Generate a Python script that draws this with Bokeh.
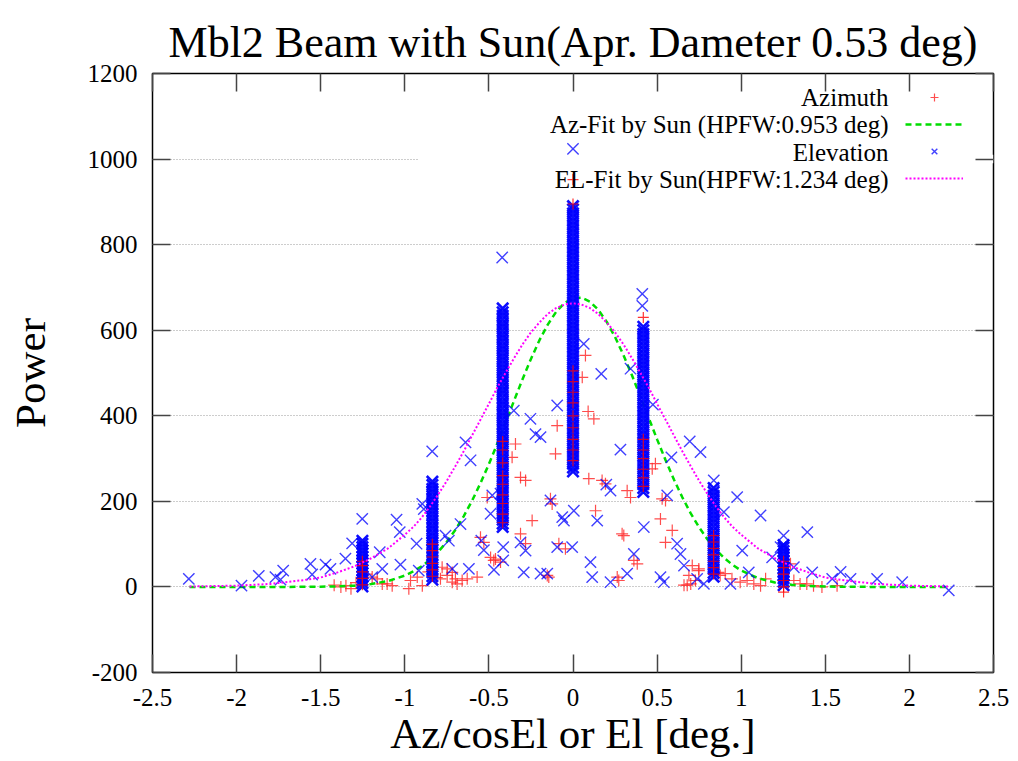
from bokeh.plotting import figure
from bokeh.models import (ColumnDataSource, Range1d, LinearAxis, FixedTicker,
                          CustomJSTickFormatter, Label, Legend, LegendItem, BoxAnnotation)
from bokeh.core.properties import value
from bokeh.embed import file_html
from bokeh.resources import INLINE

# ---------------- data ----------------
title_text = "Mbl2 Beam with Sun(Apr. Dameter 0.53 deg)"
x_label = "Az/cosEl or El [deg.]"
y_label = "Power"
series_names = ["Azimuth", "Az-Fit by Sun (HPFW:0.953 deg)", "Elevation", "EL-Fit by Sun(HPFW:1.234 deg)"]

x_ticks = [-2.5, -2.0, -1.5, -1.0, -0.5, 0.0, 0.5, 1.0, 1.5, 2.0, 2.5]
y_ticks = [-200, 0, 200, 400, 600, 800, 1000, 1200]

# scan positions (columns of dense samples)
col_x = [-1.252, -0.836, -0.418, 0.0, 0.418, 0.836, 1.252]

# Elevation samples stacked at each scan position
el_col_m125 = [1, 9, 16, 24, 32, 39, 47, 55, 62, 70, 78, 85, 93, 101, 108]
el_col_m084 = [17, 25, 34, 42, 51, 59, 68, 76, 85, 93, 102, 110, 119, 127, 136, 144, 153, 161,
               170, 178, 187, 195, 204, 212, 221, 229, 238, 246]
el_col_m042 = [140, 148, 157, 166, 174, 183, 192, 200, 209, 218, 226, 235, 244, 252, 261, 270,
               278, 287, 296, 304, 313, 322, 330, 339, 348, 356, 365, 374, 382, 391, 400, 408,
               417, 426, 434, 443, 452, 460, 469, 478, 486, 495, 504, 512, 521, 530, 538, 547,
               556, 564, 573, 582, 590, 599, 608, 616, 625, 634, 642, 651]
el_col_000 = [270, 279, 288, 297, 306, 315, 324, 333, 342, 351, 360, 369, 378, 387, 396, 405,
              414, 423, 432, 441, 450, 459, 468, 477, 486, 495, 504, 513, 522, 531, 540, 549,
              558, 567, 576, 585, 594, 603, 612, 621, 630, 639, 648, 657, 666, 675, 684, 693,
              702, 711, 720, 729, 738, 747, 756, 765, 774, 783, 792, 801, 810, 819, 828, 837,
              846, 855, 864, 873, 882, 890]
el_col_p042 = [222, 231, 240, 249, 258, 267, 276, 285, 294, 303, 312, 321, 330, 339, 348, 357,
               366, 375, 384, 393, 402, 411, 420, 429, 438, 447, 456, 465, 474, 483, 492, 501,
               510, 519, 528, 537, 546, 555, 564, 573, 582, 591, 600, 608]
el_col_p084 = [24, 33, 42, 51, 60, 69, 78, 87, 96, 105, 114, 123, 132, 141, 150, 159, 168, 177,
               186, 195, 204, 213, 222, 231]
el_col_p125 = [4, 12, 20, 28, 36, 44, 52, 60, 68, 76, 84, 92, 98]

# Elevation scattered samples
el_x = [-2.284, -1.971, -1.868, -1.769, -1.723, -1.739, -1.561, -1.551, -1.471, -1.442, -1.353,
        -1.313, -1.253, -1.149, -1.134, -1.194, -1.049, -1.030, -1.026, -0.930, -0.917, -0.887,
        -0.896, -0.758, -0.738, -0.669, -0.718, -0.619, -0.837, -0.639, -0.609, -0.545, -0.530,
        -0.490, -0.480, -0.431, -0.415, -0.415, -0.352, -0.253, -0.223, -0.193, -0.134, -0.094,
        -0.094, -0.312, -0.282, -0.293, -0.193, -0.153, -0.064, -0.054, 0.005, -0.005, 0.144,
        0.104, 0.114, 0.223, 0.198, 0.223, 0.282, 0.322, 0.362, 0.421, 0.520, 0.540, 0.560,
        0.585, 0.619, 0.639, 0.694, 0.475, 0.412, 0.412, 0.168, 0.342, 0.758, 0.837, 0.897,
        0.976, 1.115, 1.006, 1.045, 0.936, 1.184, 1.234, 1.252, 1.393, 1.313, 1.422, 1.541,
        1.591, 1.650, 1.808, 1.957, 2.234, 0.738, 0.778, 0.064, -0.421, 0.0, -0.470, 0.660]
el_y = [19, 3, 26, 23, 38, 17, 54, 29, 52, 42, 66,
        102, 159, 81, 42, 23, 157, 128, 52, 101, 38, 182,
        194, 120, 108, 147, 42, 42, 317, 338, 296, 108, 86,
        171, 214, 218, 93, 62, 412, 393, 357, 350, 202, 424,
        93, 104, 85, 34, 31, 31, 163, 155, 178, 93, 155,
        58, 23, 11, 239, 225, 321, 31, 77, 140, 23, 11, 214,
        303, 101, 77, 340, 426, 685, 657, 498, 510, 315, 249, 175,
        210, 167, 85, 34, 7, 69, 93, 120, 128, 46, 34, 19,
        35, 19, 19, 11, -8, 19, 7, 568, 770, 1024, 40, 50]

# Azimuth scattered samples
az_x = [-1.380, -1.350, -1.320, -1.420, -1.194, -1.164, -1.134, -1.105, -1.075, -0.966, -0.926,
        -0.896, -0.976, -0.778, -0.748, -0.718, -0.699, -0.659, -0.689, -0.788, -0.748, -0.718,
        -0.629, -0.570, -0.471, -0.431, -0.550, -0.530, -0.510, -0.490, -0.461, -0.342, -0.362,
        -0.312, -0.282, -0.243, -0.312, -0.094, -0.104, -0.153, -0.144, -0.282, -0.134, -0.124,
        -0.084, -0.045, 0.090, 0.124, 0.094, 0.173, 0.193, 0.134, 0.272, 0.263, 0.292, 0.302,
        0.322, 0.342, 0.362, 0.382, 0.471, 0.490, 0.530, 0.550, 0.520, 0.590, 0.550, 0.074,
        0.055, 0.709, 0.748, 0.689, 0.728, 0.679, 0.748, 0.865, 0.905, 0.945, 0.994, 1.035,
        1.075, 1.115, 1.145, 0.875, 1.293, 1.313, 1.350, 1.390, 1.430, 1.480, 1.570, 0.660,
        0.700, -1.290, -1.230, -0.860, -0.810]
az_y = [0, 3, -4, 4, 23, 19, 7, 7, 3, 15, 23,
        3, -4, 46, 42, 34, 19, 15, 7, 19, 27, 11,
        19, 23, 62, 58, 116, 104, 209, 69, 65, 334, 303,
        256, 249, 155, 124, 377, 311, 27, 23, 101, 206, 194,
        101, 89, 410, 393, 253, 249, 241, 178, 15, 23, 124, 120,
        225, 209, 62, 54, 276, 288, 206, 202, 159, 132, 104, 541,
        490, 50, 42, 27, 15, 4, 38, 34, 31, 19, 11, 15,
        7, 3, 19, 27, 54, 15, 7, 7, 3, 0, 3, 4,
        7, 10, 30, 35, 22]

# Azimuth samples that show inside the scan columns
az_col_m125 = [5, 20, 35, 50, 60]
az_col_m084 = [25, 40, 55, 70, 85, 100]
az_col_m042 = [150, 170, 195, 215, 240, 260, 290, 320, 340]
az_col_000 = [295, 320, 345, 372, 400, 430, 455, 480, 505, 895, 952]
az_col_p042 = [235, 255, 275, 300, 320, 345, 630]
az_col_p084 = [30, 45, 60, 75, 90, 105, 120]
az_col_p125 = [-12, 0, 15, 30, 45, 60]

# fitted curves
fit_x = [-2.28, -2.0, -1.8, -1.6, -1.5, -1.4, -1.3, -1.2, -1.1, -1.0, -0.95, -0.9, -0.85, -0.8,
         -0.75, -0.7, -0.65, -0.6, -0.55, -0.5, -0.45, -0.4, -0.35, -0.3, -0.25, -0.2, -0.15,
         -0.1, -0.05, 0.0, 0.05, 0.1, 0.15, 0.2, 0.25, 0.3, 0.35, 0.4, 0.45, 0.5, 0.55, 0.6,
         0.65, 0.7, 0.75, 0.8, 0.85, 0.9, 0.95, 1.0, 1.1, 1.2, 1.3, 1.4, 1.5, 1.6, 1.8, 2.0, 2.23]
az_fit = [0, 0, 0.02, 0.2, 0.5, 1.3, 3.0, 6.7, 13.7, 26.6, 36.1, 48.3, 63.7, 82.7,
          105.7, 133.1, 165.1, 201.5, 242.5, 287.2, 335.0, 385.0, 435.7, 485.5, 532.9, 576.1, 613.2,
          643.0, 663.9, 675.1, 676.2, 667.0, 647.9, 619.9, 584.1, 541.9, 495.2, 445.7, 395.1, 344.9, 296.6, 251.1,
          209.4, 172.0, 139.1, 110.8, 86.9, 67.2, 51.1, 38.3, 20.5, 10.4, 4.9, 2.2, 0.9, 0.4, 0.05, 0, 0]
el_fit = [1, 3, 7, 16, 22, 34, 48, 67, 90, 122, 140, 162, 188, 217,
          248, 282, 317, 354, 391, 428, 466, 501, 535, 567, 595, 618, 638,
          652, 660, 663, 660, 652, 638, 618, 595, 567, 535, 501, 466, 428, 391, 354,
          317, 282, 248, 217, 188, 162, 140, 122, 90, 67, 48, 34, 22, 16, 7, 3, 1]

# ---------------- assemble sources ----------------
el_cols = [el_col_m125, el_col_m084, el_col_m042, el_col_000, el_col_p042, el_col_p084, el_col_p125]
az_cols = [az_col_m125, az_col_m084, az_col_m042, az_col_000, az_col_p042, az_col_p084, az_col_p125]

elc_x, elc_y = [], []
for cx, vals in zip(col_x, el_cols):
    elc_x += [cx] * len(vals)
    elc_y += vals

azc_x, azc_y = [], []
for cx, vals in zip(col_x, az_cols):
    azc_x += [cx] * len(vals)
    azc_y += vals

az_src = ColumnDataSource(dict(x=az_x, y=az_y))
azc_src = ColumnDataSource(dict(x=azc_x, y=azc_y))
el_src = ColumnDataSource(dict(x=el_x, y=el_y))
elc_src = ColumnDataSource(dict(x=elc_x, y=elc_y))
azfit_src = ColumnDataSource(dict(x=fit_x, y=az_fit))
elfit_src = ColumnDataSource(dict(x=fit_x, y=el_fit))

# ---------------- figure ----------------
SERIF = "Liberation Serif"
p = figure(width=1018, height=761, output_backend="svg", toolbar_location=None,
           x_range=Range1d(-2.5, 2.5), y_range=Range1d(-200, 1200),
           min_border_left=152, min_border_right=25, min_border_top=73, min_border_bottom=89)
p.background_fill_color = "white"
p.border_fill_color = "white"
p.outline_line_color = "black"
p.outline_line_width = 1.5

p.title.text = title_text
p.title.align = "center"
p.title.text_font = SERIF
p.title.text_font_size = "44px"
p.title.text_font_style = "normal"
p.title.text_color = "black"
p.title.standoff = 13

bottom_ax = p.below[0]
left_ax = p.left[0]
top_ax = LinearAxis()
right_ax = LinearAxis()
p.add_layout(top_ax, "above")
p.add_layout(right_ax, "right")

xt = FixedTicker(ticks=x_ticks)
yt = FixedTicker(ticks=y_ticks)

for ax, tk in [(bottom_ax, xt), (top_ax, xt), (left_ax, yt), (right_ax, yt)]:
    ax.ticker = tk
    ax.major_tick_in = 18
    ax.major_tick_out = 0
    ax.minor_tick_in = 0
    ax.minor_tick_out = 0
    ax.axis_line_color = None
    ax.major_tick_line_color = "#444444"
    ax.major_tick_line_width = 1.5
    ax.major_label_text_font = SERIF
    ax.major_label_text_color = "black"
    ax.major_label_text_font_size = "25px"

for ax in (bottom_ax, left_ax):
    ax.formatter = CustomJSTickFormatter(code="return tick.toString();")
for ax in (top_ax, right_ax):
    ax.formatter = CustomJSTickFormatter(code="return '';")
    ax.major_label_standoff = 0

bottom_ax.major_label_standoff = 16
left_ax.major_label_standoff = 15

bottom_ax.axis_label = x_label
bottom_ax.axis_label_text_font = SERIF
bottom_ax.axis_label_text_font_size = "43px"
bottom_ax.axis_label_text_font_style = "normal"
bottom_ax.axis_label_text_color = "black"
bottom_ax.axis_label_standoff = 1

left_ax.axis_label = y_label
left_ax.axis_label_text_font = SERIF
left_ax.axis_label_text_font_size = "43px"
left_ax.axis_label_text_font_style = "normal"
left_ax.axis_label_text_color = "black"
left_ax.axis_label_standoff = 31

p.xgrid.visible = False
p.ygrid.ticker = yt
p.ygrid.grid_line_color = "#9a9a9a"
p.ygrid.grid_line_dash = "1 2"
p.ygrid.grid_line_width = 1

mask = BoxAnnotation(left=-0.918, right=2.5, bottom=990, top=1010,
                     fill_color="white", fill_alpha=1.0, line_alpha=0, level="underlay")
p.add_layout(mask)

# ---------------- glyphs ----------------
r_az = p.scatter("x", "y", source=az_src, marker="cross", size=12,
                 line_color="#ff2020", line_alpha=0.8, line_width=1.2)
r_azfit = p.line("x", "y", source=azfit_src, line_color="#00dd00", line_width=2.5, line_dash="6 4")
r_el = p.scatter("x", "y", source=el_src, marker="x", size=16,
                 line_color="#0000ff", line_alpha=0.75, line_width=1.4)
p.scatter("x", "y", source=elc_src, marker="x", size=16,
          line_color="#0000ff", line_alpha=0.95, line_width=2.6)
p.scatter("x", "y", source=azc_src, marker="cross", size=11,
          line_color="#ff0000", line_alpha=0.8, line_width=1.2)
r_elfit = p.line("x", "y", source=elfit_src, line_color="#ff00ff", line_width=2, line_dash="2 2")

legend = Legend(items=[LegendItem(label=value(""), renderers=[r_az]),
                       LegendItem(label=value(""), renderers=[r_azfit]),
                       LegendItem(label=value(""), renderers=[r_el]),
                       LegendItem(label=value(""), renderers=[r_elfit])],
                location="top_right", margin=14, padding=0, spacing=7,
                glyph_width=58, glyph_height=20, label_width=16, label_height=20,
                label_standoff=0, label_text_font_size="10px",
                background_fill_alpha=0, border_line_alpha=0)
p.add_layout(legend)

legend_y = [1143.5, 1080.4, 1015.0, 952.0]
for name, ly in zip(series_names, legend_y):
    p.add_layout(Label(x=1.876, y=ly, text=name, text_align="right", text_baseline="middle",
                       text_font=SERIF, text_font_size="25px", text_color="black"))

open("out.html", "w").write(file_html(p, INLINE))
